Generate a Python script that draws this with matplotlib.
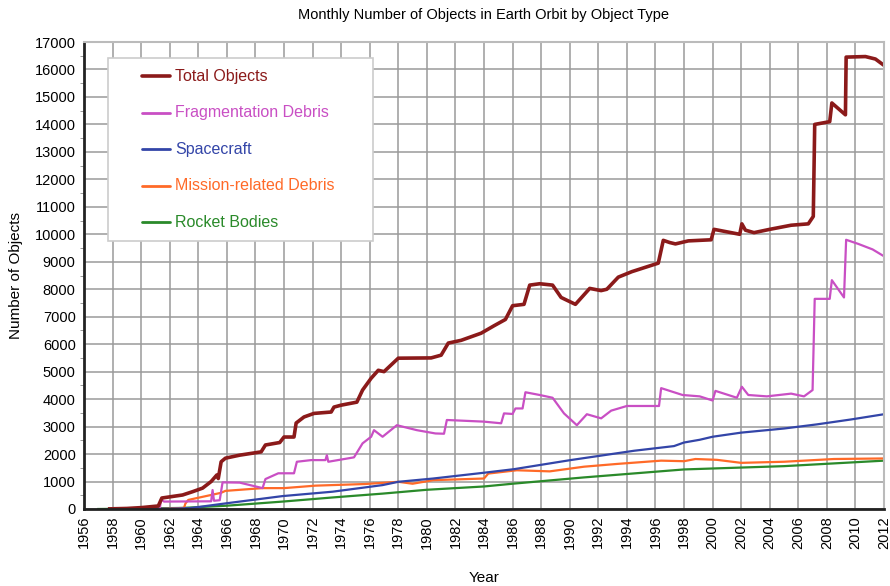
import numpy as np
import matplotlib.pyplot as plt
from matplotlib.patches import Rectangle

plt.rcParams['font.family'] = ['Liberation Sans', 'DejaVu Sans']

# ---- data (year, number of objects) ----
total_years = [1957.8, 1959.0, 1960.0, 1961.2, 1961.45, 1962.9, 1963.6, 1964.3, 1964.9, 1965.3,
               1965.4, 1965.6, 1965.9, 1966.9, 1968.4, 1968.7, 1969.7, 1970.0, 1970.7, 1970.85,
               1971.4, 1972.1, 1973.3, 1973.5, 1974.0, 1975.1, 1975.5, 1976.1, 1976.6, 1977.0,
               1978.0, 1980.3, 1981.0, 1981.5, 1982.4, 1983.8, 1984.7, 1985.5, 1986.0, 1986.8,
               1987.2, 1987.9, 1988.8, 1989.4, 1990.4, 1991.4, 1992.2, 1992.6, 1993.4, 1994.35,
               1996.2, 1996.55, 1997.0, 1997.4, 1998.3, 1999.9, 2000.1, 2001.9, 2002.05, 2002.3,
               2002.9, 2004.0, 2005.5, 2006.7, 2007.05, 2007.15, 2008.2, 2008.35, 2009.3, 2009.35,
               2010.7, 2011.4, 2012.0]
total_vals = [5, 20, 50, 110, 400, 510, 630, 760, 1000, 1240,
              1110, 1720, 1850, 1960, 2080, 2330, 2420, 2620, 2620, 3130,
              3350, 3480, 3530, 3710, 3780, 3890, 4330, 4760, 5050, 5000,
              5490, 5500, 5600, 6040, 6140, 6400, 6670, 6900, 7400, 7450,
              8150, 8200, 8150, 7700, 7450, 8030, 7950, 8000, 8440, 8640,
              8950, 9780, 9700, 9650, 9760, 9800, 10180, 10000, 10380, 10150,
              10060, 10180, 10330, 10380, 10650, 14000, 14100, 14780, 14350, 16450,
              16470, 16380, 16150]

frag_years = [1961.3, 1961.4, 1961.6, 1964.9, 1965.0, 1965.1, 1965.5, 1965.7, 1966.9, 1968.5,
              1968.7, 1969.6, 1970.7, 1970.9, 1971.9, 1972.9, 1973.0, 1973.1, 1974.9, 1975.5,
              1976.1, 1976.3, 1976.9, 1977.9, 1979.3, 1980.6, 1981.2, 1981.4, 1984.0, 1985.2,
              1985.4, 1986.0, 1986.2, 1986.7, 1986.9, 1987.9, 1988.8, 1989.6, 1990.5, 1991.2,
              1992.2, 1992.9, 1994.0, 1996.25, 1996.4, 1997.9, 1999.1, 2000.0, 2000.2, 2001.7,
              2002.05, 2002.5, 2003.8, 2005.5, 2006.4, 2007.0, 2007.15, 2008.2, 2008.35, 2009.2,
              2009.35, 2010.2, 2011.2, 2012.0]
frag_vals = [0, 360, 270, 280, 690, 300, 320, 970, 960, 760,
             1090, 1300, 1300, 1720, 1780, 1780, 1960, 1720, 1880, 2390,
             2630, 2870, 2630, 3050, 2870, 2750, 2740, 3240, 3180, 3120,
             3480, 3460, 3660, 3660, 4250, 4150, 4050, 3480, 3050, 3450,
             3300, 3580, 3750, 3750, 4400, 4150, 4100, 3950, 4300, 4050,
             4450, 4150, 4100, 4200, 4100, 4330, 7650, 7650, 8330, 7700,
             9800, 9650, 9450, 9200]

sc_years = [1957.8, 1962.0, 1963.4, 1966.0, 1969.9, 1973.4, 1976.9, 1978.0, 1980.45, 1984.0,
            1986.1, 1990.05, 1994.5, 1997.3, 1998.0, 1999.1, 2000.0, 2002.0, 2005.0, 2007.3,
            2009.7, 2012.0]
sc_vals = [0, 10, 30, 210, 470, 630, 870, 990, 1110, 1320,
           1450, 1780, 2120, 2290, 2420, 2520, 2630, 2780, 2930, 3080,
           3260, 3450]

mrd_years = [1961.3, 1963.0, 1963.1, 1963.3, 1965.6, 1965.9, 1968.5, 1970.0, 1972.2, 1975.7,
             1978.0, 1979.0, 1980.45, 1984.0, 1984.3, 1986.3, 1988.6, 1991.0, 1993.3, 1996.4,
             1998.0, 1998.8, 2000.3, 2002.0, 2005.0, 2008.5, 2012.0]
mrd_vals = [0, 40, 200, 330, 590, 660, 760, 760, 850, 910,
            990, 920, 1050, 1110, 1290, 1410, 1370, 1540, 1640, 1760,
            1740, 1820, 1790, 1680, 1720, 1820, 1840]

rb_years = [1957.0, 1960.0, 1962.9, 1966.0, 1969.9, 1973.4, 1976.9, 1980.0, 1984.0, 1986.0,
            1991.0, 1998.0, 2005.0, 2012.0]
rb_vals = [0, 15, 40, 120, 270, 420, 560, 700, 820, 920,
           1150, 1440, 1560, 1760]

series = [
    ("Total Objects", total_years, total_vals, "#8b1a1a", 2.6),
    ("Fragmentation Debris", frag_years, frag_vals, "#c94fc4", 1.6),
    ("Spacecraft", sc_years, sc_vals, "#3345a8", 1.6),
    ("Mission-related Debris", mrd_years, mrd_vals, "#ff6a28", 1.6),
    ("Rocket Bodies", rb_years, rb_vals, "#2a8a2a", 1.6),
]

# ---- figure ----
fig = plt.figure(figsize=(8.9, 5.86), dpi=100)
ax = fig.add_axes([84 / 890, 1 - 509 / 586, 800 / 890, 467 / 586])

# bottom series first so the total sits on top
for name, xs, ys, col, lw in reversed(series):
    ax.plot(xs, ys, color=col, lw=lw, label=name, solid_joinstyle="round")

ax.set_xlim(1956, 2012)
ax.set_ylim(0, 17000)
ax.set_xticks(np.arange(1956, 2013, 2))
ax.set_yticks(np.arange(0, 17001, 1000))
ax.set_yticks(np.arange(500, 17000, 1000), minor=True)
ax.tick_params(axis="x", labelrotation=90, labelsize=10.5, length=0, pad=5)
ax.tick_params(axis="y", labelsize=10.5, length=0, pad=6)
ax.tick_params(axis="y", which="minor", length=3, color="#888888")
ax.grid(True, which="major", color="#9a9a9a", lw=1.1)
ax.set_axisbelow(True)

for s in ["top", "right"]:
    ax.spines[s].set_color("#bbbbbb")
    ax.spines[s].set_linewidth(1.5)
for s in ["left", "bottom"]:
    ax.spines[s].set_color("#222222")
    ax.spines[s].set_linewidth(2)

ax.set_xlabel("Year", fontsize=11, labelpad=16)
ax.set_ylabel("Number of Objects", fontsize=11, labelpad=8)
fig.text(484 / 890, 1 - 15 / 586, "Monthly Number of Objects in Earth Orbit by Object Type",
         ha="center", va="center", fontsize=10.5)

# legend box drawn by hand to match the reference size
box = Rectangle((24 / 800, (509 - 241) / 467), 265 / 800, 183 / 467, transform=ax.transAxes,
                facecolor="white", edgecolor="#cccccc", lw=1.2, zorder=5)
ax.add_patch(box)
for i, (name, _, _, col, lw) in enumerate(series):
    yc = (509 - (76 + i * 36.6)) / 467
    ax.plot([58 / 800, 86 / 800], [yc, yc], transform=ax.transAxes, color=col,
            lw=lw if i == 0 else 2.0, zorder=6, solid_capstyle="round")
    ax.text(91 / 800, yc, name, transform=ax.transAxes, color=col, fontsize=11.5,
            va="center", ha="left", zorder=6)

fig.savefig("out.png", dpi=100)
